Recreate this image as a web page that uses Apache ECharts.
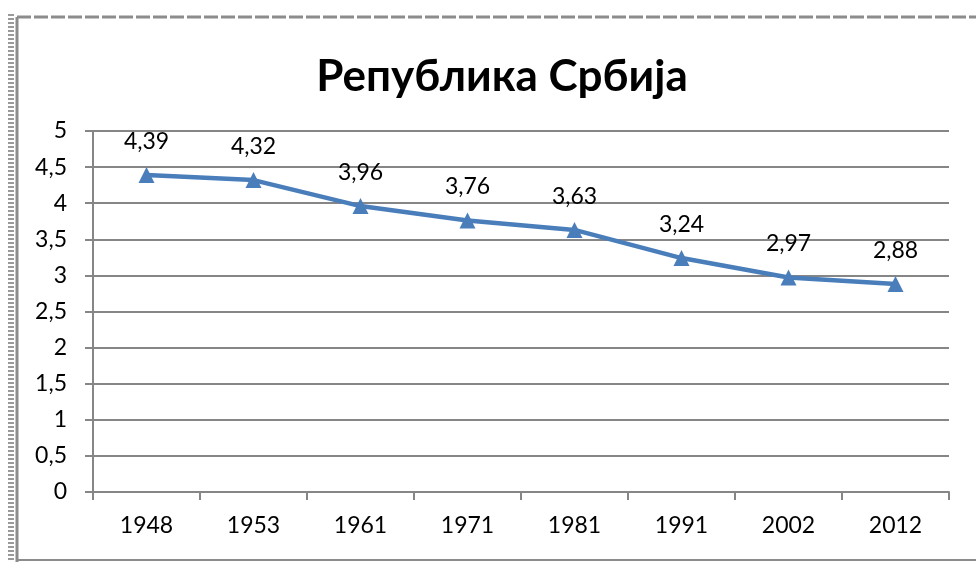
<!DOCTYPE html>
<html>
<head>
<meta charset="utf-8">
<script src="https://cdn.jsdelivr.net/npm/echarts@6/dist/echarts.min.js"></script>
<style>
  html, body { margin: 0; padding: 0; background: #fff; }
  #chart { width: 976px; height: 562px; }
</style>
</head>
<body>
<div id="chart"></div>
<script>
// Република Србија - просечна величина домаћинства по попису
const years = ['1948', '1953', '1961', '1971', '1981', '1991', '2002', '2012'];
const values = [4.39, 4.32, 3.96, 3.76, 3.63, 3.24, 2.97, 2.88];
const yTicks = [0, 0.5, 1, 1.5, 2, 2.5, 3, 3.5, 4, 4.5, 5];

const fontFam = 'Lato, "Open Sans", "Liberation Sans", sans-serif';
const comma = v => String(v).replace('.', ',');

let myChart = echarts.init(document.getElementById('chart'));
myChart.setOption({
  animation: false,
  title: {
    text: 'Република Србија',
    left: 497,
    top: 50,
    textAlign: 'center',
    textStyle: { fontFamily: fontFam, fontSize: 44, fontWeight: 'bold', color: '#000' }
  },
  grid: { left: 93, right: 27, top: 131, bottom: 70 },
  xAxis: {
    type: 'category',
    data: years,
    boundaryGap: true,
    axisLine: { lineStyle: { color: '#868686', width: 2 } },
    axisTick: { show: true, length: 8, lineStyle: { color: '#868686', width: 2 } },
    axisLabel: { margin: 22, fontFamily: fontFam, fontSize: 23, color: '#000' }
  },
  yAxis: {
    type: 'value',
    min: yTicks[0],
    max: yTicks[yTicks.length - 1],
    interval: 0.5,
    axisLine: { show: true, lineStyle: { color: '#868686', width: 2 } },
    axisTick: { show: true, length: 8, lineStyle: { color: '#868686', width: 2 } },
    splitLine: { lineStyle: { color: '#868686', width: 2 } },
    axisLabel: { margin: 26, fontFamily: fontFam, fontSize: 23, color: '#000', formatter: v => comma(v) }
  },
  series: [{
    type: 'line',
    data: values,
    symbol: 'triangle',
    symbolSize: 16,
    lineStyle: { color: '#4a7ebb', width: 4.5 },
    itemStyle: { color: '#4a7ebb' },
    label: {
      show: true,
      position: 'top',
      distance: 14,
      fontFamily: fontFam,
      fontSize: 23,
      color: '#000',
      formatter: p => comma(p.value)
    }
  }],
  graphic: [
    // рам графикона
    { type: 'line', shape: { x1: 17, y1: 17, x2: 976, y2: 17 }, style: { stroke: '#8c8c8c', lineWidth: 3, lineDash: [14, 3] } },
    { type: 'line', shape: { x1: 17, y1: 17, x2: 17, y2: 562 }, style: { stroke: '#8c8c8c', lineWidth: 3 } },
    { type: 'line', shape: { x1: 11, y1: 14, x2: 11, y2: 562 }, style: { stroke: '#9a9a9a', lineWidth: 6, lineDash: [2, 2] } },
    { type: 'line', shape: { x1: 17, y1: 560, x2: 976, y2: 560 }, style: { stroke: '#8c8c8c', lineWidth: 2 } }
  ]
});
</script>
</body>
</html>
